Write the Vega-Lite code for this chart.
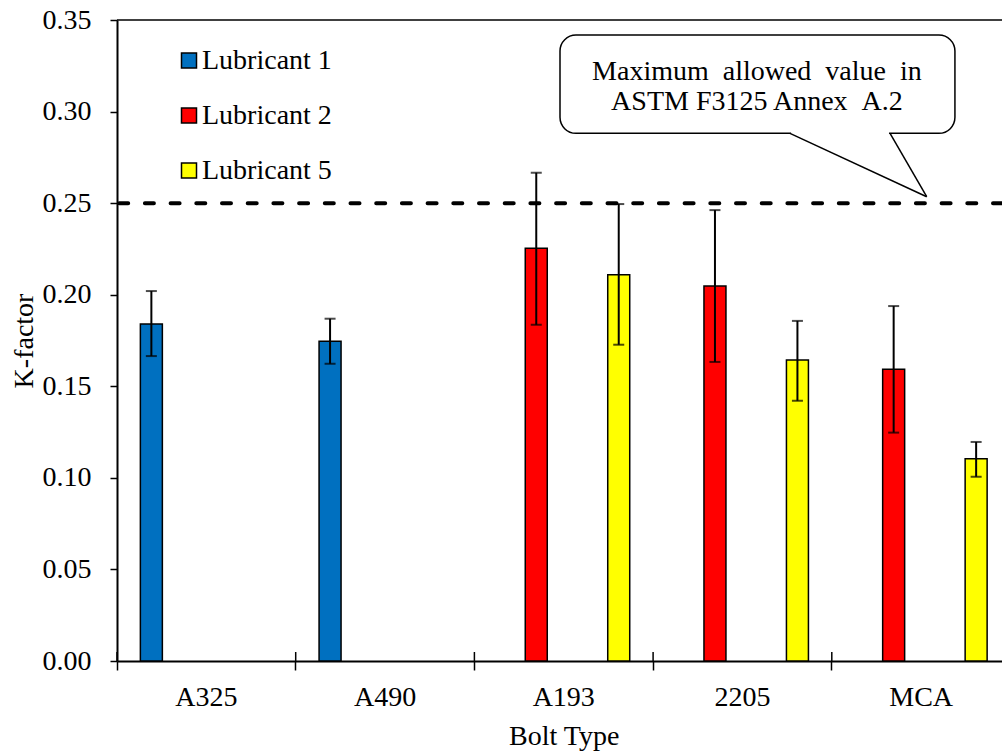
{
  "$schema": "https://vega.github.io/schema/vega-lite/v6.json",
  "autosize": "none",
  "width": 885,
  "height": 641,
  "padding": {"left": 117, "top": 20, "right": 0, "bottom": 94},
  "background": "white",
  "config": {
    "font": "Liberation Serif",
    "view": {"stroke": null},
    "axis": {
      "labelFont": "Liberation Serif",
      "titleFont": "Liberation Serif",
      "labelColor": "black",
      "titleColor": "black",
      "domainColor": "black",
      "tickColor": "black",
      "labelFontSize": 28,
      "titleFontSize": 28,
      "titleFontWeight": "normal",
      "grid": false
    },
    "legend": {
      "labelFont": "Liberation Serif",
      "labelFontSize": 28,
      "labelColor": "black"
    }
  },
  "layer": [
    {
      "data": {
        "values": [
          {"bolt": "A325", "lubricant": "Lubricant 1", "k": 0.184, "lo": 0.1665, "hi": 0.202},
          {"bolt": "A490", "lubricant": "Lubricant 1", "k": 0.1746, "lo": 0.1623, "hi": 0.1869},
          {"bolt": "A193", "lubricant": "Lubricant 2", "k": 0.2254, "lo": 0.1836, "hi": 0.2666},
          {"bolt": "A193", "lubricant": "Lubricant 5", "k": 0.2109, "lo": 0.1727, "hi": 0.2495},
          {"bolt": "2205", "lubricant": "Lubricant 2", "k": 0.2048, "lo": 0.1633, "hi": 0.2462},
          {"bolt": "2205", "lubricant": "Lubricant 5", "k": 0.1644, "lo": 0.1421, "hi": 0.1857},
          {"bolt": "MCA", "lubricant": "Lubricant 2", "k": 0.1593, "lo": 0.1247, "hi": 0.1938},
          {"bolt": "MCA", "lubricant": "Lubricant 5", "k": 0.1105, "lo": 0.1006, "hi": 0.1196}
        ]
      },
      "encoding": {
        "x": {
          "field": "bolt",
          "type": "nominal",
          "sort": ["A325", "A490", "A193", "2205", "MCA"],
          "scale": {"domain": ["A325", "A490", "A193", "2205", "MCA"], "range": [0, 893.5], "paddingInner": 0, "paddingOuter": 0},
          "axis": {
            "title": "Bolt Type",
            "labelAngle": 0,
            "bandPosition": 0,
            "tickSize": 9,
            "tickWidth": 1.5,
            "domainWidth": 2,
            "labelPadding": 13,
            "titlePadding": 11
          }
        },
        "xOffset": {
          "field": "lubricant",
          "type": "nominal",
          "scale": {
            "domain": ["Lubricant 1", "Lubricant 2", "Lubricant 3", "Lubricant 4", "Lubricant 5"],
            "paddingInner": 0.2,
            "paddingOuter": 0.85
          }
        }
      },
      "layer": [
        {
          "mark": {"type": "bar", "stroke": "black", "strokeWidth": 1.5},
          "encoding": {
            "y": {
              "field": "k",
              "type": "quantitative",
              "scale": {"domain": [0, 0.35], "nice": false},
              "axis": {
                "title": "K-factor",
                "values": [0, 0.05, 0.1, 0.15, 0.2, 0.25, 0.3, 0.35],
                "format": ".2f",
                "tickSize": 7,
                "tickWidth": 1.5,
                "domainWidth": 2,
                "labelPadding": 19,
                "titlePadding": 4
              }
            },
            "color": {
              "field": "lubricant",
              "type": "nominal",
              "scale": {
                "domain": ["Lubricant 1", "Lubricant 2", "Lubricant 5"],
                "range": ["#0070C0", "#FF0000", "#FFFF00"]
              },
              "legend": {
                "title": null,
                "orient": "none",
                "legendX": 58,
                "legendY": 26.5,
                "padding": 0,
                "symbolType": "square",
                "symbolSize": 225,
                "symbolStrokeColor": "black",
                "symbolStrokeWidth": 1.5,
                "rowPadding": 27,
                "labelOffset": -1
              }
            }
          }
        },
        {
          "mark": {"type": "rule", "color": "black", "strokeWidth": 2},
          "encoding": {
            "y": {"field": "lo", "type": "quantitative"},
            "y2": {"field": "hi"}
          }
        },
        {
          "mark": {"type": "tick", "color": "black", "size": 11, "thickness": 2},
          "encoding": {"y": {"field": "lo", "type": "quantitative"}}
        },
        {
          "mark": {"type": "tick", "color": "black", "size": 11, "thickness": 2},
          "encoding": {"y": {"field": "hi", "type": "quantitative"}}
        },
        {
          "data": {"values": [{"bolt": "A325"}, {"bolt": "A490"}, {"bolt": "A193"}, {"bolt": "2205"}, {"bolt": "MCA"}]},
          "mark": {"type": "rule", "color": "black", "strokeWidth": 1.5},
          "encoding": {
            "x": {"field": "bolt", "type": "nominal", "bandPosition": 0},
            "xOffset": null,
            "y": {"datum": 0},
            "y2": {"datum": 0.0049}
          }
        },
        {
          "data": {"values": [{}]},
          "mark": {"type": "rule", "color": "black", "strokeWidth": 4, "strokeDash": [9, 16.7], "strokeCap": "round"},
          "encoding": {"x": null, "xOffset": null, "y": {"datum": 0.25}}
        },
        {
          "data": {"values": [{}]},
          "mark": {"type": "rule", "color": "black", "strokeWidth": 1.5},
          "encoding": {"x": null, "xOffset": null, "y": {"datum": 0.35}}
        }
      ]
    },
    {
      "data": {"values": [{}]},
      "encoding": {
        "x": {"type": "quantitative", "scale": {"domain": [0, 4.9524], "nice": false, "zero": false}, "axis": null}
      },
      "layer": [
        {
          "mark": {"type": "rect", "fill": "white", "stroke": "black", "strokeWidth": 1.5, "cornerRadius": 16},
          "encoding": {
            "x": {"datum": 2.479, "type": "quantitative"},
            "x2": {"datum": 4.689},
            "y": {"datum": 0.3418, "type": "quantitative"},
            "y2": {"datum": 0.2881}
          }
        },
        {
          "mark": {"type": "rule", "color": "white", "strokeWidth": 3},
          "encoding": {
            "x": {"datum": 3.772, "type": "quantitative"},
            "x2": {"datum": 4.32},
            "y": {"datum": 0.2881, "type": "quantitative"}
          }
        },
        {
          "mark": {"type": "rule", "color": "black", "strokeWidth": 1.5},
          "encoding": {
            "x": {"datum": 3.766, "type": "quantitative"},
            "x2": {"datum": 4.531},
            "y": {"datum": 0.2881, "type": "quantitative"},
            "y2": {"datum": 0.2535}
          }
        },
        {
          "mark": {"type": "rule", "color": "black", "strokeWidth": 1.5},
          "encoding": {
            "x": {"datum": 4.326, "type": "quantitative"},
            "x2": {"datum": 4.531},
            "y": {"datum": 0.2881, "type": "quantitative"},
            "y2": {"datum": 0.2535}
          }
        },
        {
          "mark": {"type": "text", "font": "Liberation Serif", "fontSize": 28, "align": "center", "baseline": "alphabetic", "color": "black"},
          "encoding": {
            "x": {"datum": 3.581, "type": "quantitative"},
            "y": {"datum": 0.3172, "type": "quantitative"},
            "text": {"value": "Maximum \u00a0allowed \u00a0value \u00a0in"}
          }
        },
        {
          "mark": {"type": "text", "font": "Liberation Serif", "fontSize": 28, "align": "center", "baseline": "alphabetic", "color": "black"},
          "encoding": {
            "x": {"datum": 3.581, "type": "quantitative"},
            "y": {"datum": 0.3009, "type": "quantitative"},
            "text": {"value": "ASTM F3125 Annex \u00a0A.2"}
          }
        }
      ]
    }
  ],
  "resolve": {"scale": {"x": "independent"}}
}
